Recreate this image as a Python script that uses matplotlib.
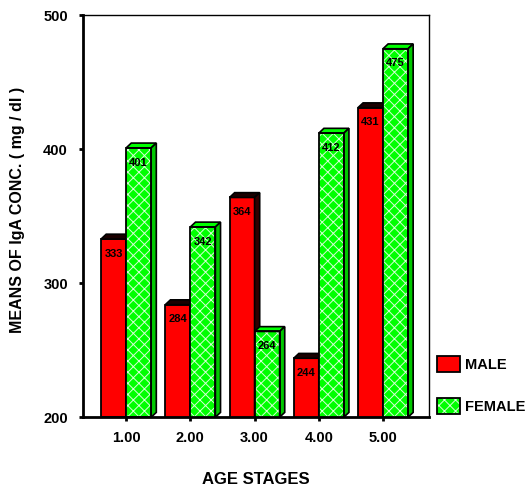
import matplotlib
matplotlib.use("Agg")
import matplotlib.pyplot as plt
from matplotlib.patches import Polygon, Patch

# data
stages = [1, 2, 3, 4, 5]
stage_labels = ["1.00", "2.00", "3.00", "4.00", "5.00"]
male = [333, 284, 364, 244, 431]
female = [401, 342, 264, 412, 475]

plt.rcParams['font.family'] = ['Liberation Sans', 'DejaVu Sans']
plt.rcParams['font.weight'] = 'bold'
plt.rcParams['hatch.linewidth'] = 0.7

RED = '#ff0000'
GREEN = '#00ff00'
HATCH = '#d4ffd4'
W = 0.39      # bar width
DX = 0.08     # 3d depth in x (data)
DY = 3.6      # 3d depth in y (data)

fig = plt.figure(figsize=(5.26, 4.92), dpi=100)
ax = fig.add_axes([0.158, 0.152, 0.658, 0.817])
ax.set_xlim(0.33, 5.72)
ax.set_ylim(200, 500)


def bar3d(x0, h, face, top, side, hatch=None, z=2):
    # front face
    if hatch:
        ax.bar(x0, h - 200, W, bottom=200, align='edge', color=face,
               edgecolor=HATCH, hatch=hatch, linewidth=0, zorder=z)
        ax.bar(x0, h - 200, W, bottom=200, align='edge', facecolor='none',
               edgecolor='black', linewidth=1.3, zorder=z + 0.1)
    else:
        ax.bar(x0, h - 200, W, bottom=200, align='edge', color=face,
               edgecolor='black', linewidth=1.3, zorder=z)
    # top face
    ax.add_patch(Polygon([(x0, h), (x0 + W, h), (x0 + W + DX, h + DY), (x0 + DX, h + DY)],
                         closed=True, facecolor=top, edgecolor='black', lw=1.2, zorder=z))
    # side face
    ax.add_patch(Polygon([(x0 + W, 200), (x0 + W + DX, 200 + DY), (x0 + W + DX, h + DY), (x0 + W, h)],
                         closed=True, facecolor=side, edgecolor='black', lw=1.2, zorder=z))


for i, s in enumerate(stages):
    z = 2 + i
    bar3d(s - W, male[i], RED, '#1a0000', '#300000', z=z)
    bar3d(s, female[i], GREEN, GREEN, '#00c800', hatch='xxx', z=z + 0.5)
    ax.text(s - W / 2, male[i] - 11, str(male[i]), ha='center', va='center',
            fontsize=8, fontweight='bold', zorder=20)
    ax.text(s + W / 2, female[i] - 11, str(female[i]), ha='center', va='center',
            fontsize=8, fontweight='bold', zorder=20)

ax.set_xticks(stages)
ax.set_xticklabels(stage_labels)
ax.set_yticks([200, 300, 400, 500])
ax.tick_params(axis='both', direction='out', length=3, width=2, labelsize=10.5)
ax.tick_params(axis='y', pad=8)
ax.tick_params(axis='x', pad=7)
for t in ax.get_xticklabels() + ax.get_yticklabels():
    t.set_fontweight('bold')

ax.spines['left'].set_linewidth(2)
ax.spines['bottom'].set_linewidth(2)
ax.spines['top'].set_linewidth(1)
ax.spines['right'].set_linewidth(1)

fig.text(18 / 526, 1 - 210 / 492, "MEANS OF IgA CONC. ( mg / dl )", rotation=90,
         ha='center', va='center', fontsize=11.5, fontweight='bold')
fig.text(256 / 526, 1 - 480 / 492, "AGE STAGES", ha='center', va='center',
         fontsize=12, fontweight='bold')

male_h = Patch(facecolor=RED, edgecolor='black', linewidth=1.3)
female_h = (Patch(facecolor=GREEN, edgecolor=HATCH, hatch='xxx', linewidth=0),
            Patch(facecolor='none', edgecolor='black', linewidth=1.3))
fig.legend([male_h, female_h], ['MALE', 'FEMALE'], loc='upper left',
           bbox_to_anchor=(437 / 526, 1 - 356 / 492), frameon=False,
           prop={'weight': 'bold', 'size': 10.5}, handlelength=1.6, handleheight=1.35,
           labelspacing=1.75, handletextpad=0.3, borderpad=0, borderaxespad=0)

fig.savefig("out.png", dpi=100)
